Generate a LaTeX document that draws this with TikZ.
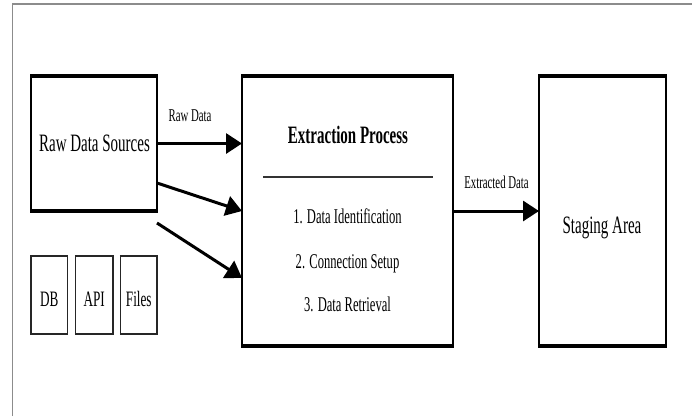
\documentclass[tikz,border=0pt]{standalone}
\usepackage{fontspec}
\setmainfont{Liberation Serif}[FakeStretch=0.6]
\usetikzlibrary{arrows.meta}
\begin{document}
\begin{tikzpicture}[x=1pt,y=-1pt,
  frame/.style={draw=black!45, line width=1.2pt},
  bigbox/.style={draw=black, line width=1.8pt, inner sep=0pt, outer sep=0pt},
  smallbox/.style={draw=black!85, line width=1.4pt, inner sep=0pt, outer sep=0pt},
  bar/.style={draw=black, line width=3.5pt},
  smallbar/.style={draw=black!85, line width=2.4pt},
  flow/.style={draw=black, line width=3pt, -{Triangle[length=16pt,width=20pt]}},
  rule/.style={draw=black!80, line width=1.8pt},
  head/.style={font=\fontsize{25}{30}\selectfont, anchor=base, inner sep=0pt},
  item/.style={font=\fontsize{21}{25}\selectfont, anchor=base, inner sep=0pt},
  tag/.style={font=\fontsize{22}{26}\selectfont, anchor=base, inner sep=0pt},
  lbl/.style={font=\fontsize{18}{21}\selectfont, anchor=base, inner sep=0pt}
]
\useasboundingbox (0,0) rectangle (692,416);
\fill[white] (0,0) rectangle (692,416);

% outer frame (left and top edges)
\draw[frame] (12.5,416) -- (12.5,4) -- (692,4);

% main boxes
\node[bigbox, minimum width=126pt, minimum height=135pt] (rds) at (94,143.5) {};
\node[bigbox, minimum width=211pt, minimum height=270pt] (ext) at (347.5,211) {};
\node[bigbox, minimum width=127pt, minimum height=270pt] (stg) at (602.5,211) {};

% heavier top and bottom edges
\foreach \b in {rds,ext,stg}{
  \draw[bar] ([xshift=-0.9pt]\b.north west) -- ([xshift=0.9pt]\b.north east);
  \draw[bar] ([xshift=-0.9pt]\b.south west) -- ([xshift=0.9pt]\b.south east);
}

% source type boxes
\node[smallbox, minimum width=36.5pt, minimum height=78pt] (db) at (49.25,295) {};
\node[smallbox, minimum width=37.5pt, minimum height=78pt] (api) at (94.25,295) {};
\node[smallbox, minimum width=36.5pt, minimum height=78pt] (files) at (138.75,295) {};
\foreach \b in {db,api,files}{
  \draw[smallbar] ([xshift=-0.7pt]\b.north west) -- ([xshift=0.7pt]\b.north east);
  \draw[smallbar] ([xshift=-0.7pt]\b.south west) -- ([xshift=0.7pt]\b.south east);
}

% texts
\node[head] (rdsT) at (94.5,151) {Raw Data Sources};
\node[head, font=\fontsize{25}{30}\selectfont\bfseries] (extT) at (348,143.3) {Extraction Process};
\node[head] (stgT) at (602,233) {Staging Area};
\node[item] (i1) at (347.5,223) {1. Data Identification};
\node[item] (i2) at (347.5,268) {2. Connection Setup};
\node[item] (i3) at (347.5,311) {3. Data Retrieval};
\node[tag] (dbT) at (49.25,306.5) {DB};
\node[tag] (apiT) at (94.25,306.5) {API};
\node[tag] (filesT) at (138.75,306.5) {Files};
\node[lbl] (rawL) at (190,121.7) {Raw Data};
\node[lbl] (extL) at (496.5,188) {Extracted Data};

% separator inside the extraction box
\coordinate (sepL) at (263,177);
\coordinate (sepR) at (433,177);
\draw[rule] (sepL) -- (sepR);

% connectors
\draw[flow] (rds.east) -- (rds.east -| ext.west);
\draw[flow] ([yshift=-39.5pt]rds.east) -- (ext.west);
\draw[flow] ([yshift=-79.5pt]rds.east) -- ([yshift=-67pt]ext.west);
\draw[flow] (ext.east) -- (stg.west);
\end{tikzpicture}
\end{document}
